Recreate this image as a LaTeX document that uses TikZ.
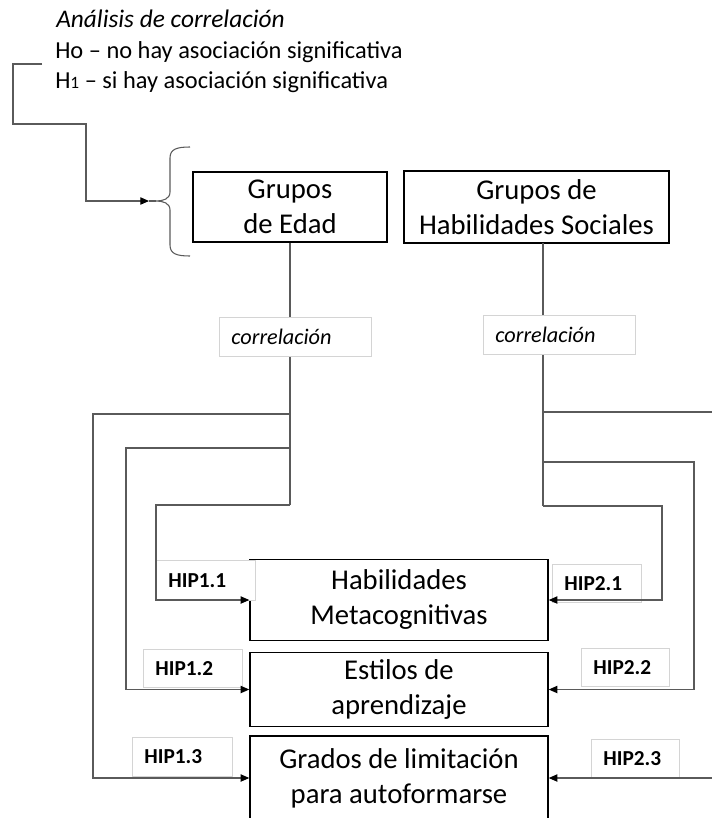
\documentclass[tikz,border=0pt]{standalone}
\usepackage{fontspec}
\setmainfont{Carlito}
\usetikzlibrary{arrows.meta}
\definecolor{conncol}{HTML}{5A5A5A}
\definecolor{lblgray}{HTML}{D4D4D4}
\begin{document}
\begin{tikzpicture}[x=0.75pt,y=-0.75pt,
  conn/.style={draw=conncol,line width=0.8pt},
  arr/.style={conn,-{Triangle[length=6.5pt,width=5.5pt,color=black]}},
  mainbox/.style={draw=black,line width=1.1pt,fill=white,align=center,inner sep=0pt,
    font=\fontsize{21.5}{26.25}\selectfont},
  lbl/.style={draw=lblgray,line width=0.6pt,fill=white,align=left,anchor=north west,
    inner ysep=0pt,inner xsep=9pt},
  hiptext/.style={lbl,font=\fontsize{16}{19}\selectfont\bfseries},
  corrtext/.style={lbl,font=\fontsize{16.7}{19}\selectfont\itshape},
  toptext/.style={anchor=base west,inner sep=0pt,font=\fontsize{18.3}{22.5}\selectfont}]
\useasboundingbox (0,0) rectangle (712,818);

% top texts
\node[toptext,font=\fontsize{19}{22.5}\selectfont\itshape] (t1) at (56,27) {Análisis de correlación};
\node[toptext] (t2) at (55,58) {Ho – no hay asociación significativa};
\node[toptext] (t3) at (55,88) {H{\fontsize{13}{13}\selectfont 1} – si hay asociación significativa};

% main boxes
\node[mainbox,minimum width=145.5pt,minimum height=52.5pt] (edad) at (290,207) {Grupos\\de Edad};
\node[mainbox,minimum width=198.75pt,minimum height=54pt] (hs) at (536.5,207) {Grupos de\\Habilidades Sociales};
\node[mainbox,minimum width=223.5pt,minimum height=60.75pt] (hm) at (399,600) {Habilidades\\Metacognitivas};
\node[mainbox,minimum width=223.5pt,minimum height=55.5pt] (est) at (399,689.5) {Estilos de\\aprendizaje};
\node[mainbox,minimum width=223.5pt,minimum height=63pt] (gl) at (399,778) {Grados de limitación\\para autoformarse};

% hypothesis labels (under the connectors)
\node[hiptext,text width=56.25pt,minimum height=30pt] (h11) at (156,560) {HIP1.1};
\node[hiptext,text width=48.75pt,minimum height=28.5pt] (h21) at (552,564) {HIP2.1};
\node[hiptext,text width=56.25pt,minimum height=28.5pt] (h12) at (143,649) {HIP1.2};
\node[hiptext,text width=48pt,minimum height=28.5pt] (h22) at (581,648) {HIP2.2};
\node[hiptext,text width=57pt,minimum height=29.25pt] (h13) at (132,737) {HIP1.3};
\node[hiptext,text width=48pt,minimum height=29.25pt] (h23) at (591,739) {HIP2.3};

% bracket with arrow into brace
\coordinate (bs) at (42,64);
\coordinate (ah) at (149,201);
\coordinate (bt) at (156,201);
\draw[arr] (bs) -- (13,64) -- (13,124) -- (86,124) -- (86,201) -- (ah);
\draw[conn] (ah) -- (bt);
\draw[conn] (190,147) .. controls (177,147) and (170,149) .. (170,158) -- (170,192)
  .. controls (170,199) and (163,201) .. (bt)
  .. controls (163,201) and (170,203) .. (170,210) -- (170,245)
  .. controls (170,254) and (177,256) .. (190,256);

% left trunk
\coordinate (la) at (290,414);
\coordinate (lb) at (290,448);
\coordinate (lc) at (290,505);
\draw[conn] (edad.south) -- (lc);
\draw[arr] (la) -- ++(-197,0) |- (gl.west);
\draw[arr] (lb) -- ++(-164,0) |- (est.west);
\draw[arr] (lc) -- ++(-134,0) |- (hm.west);

% right trunk
\coordinate (rtop) at (543,243);
\coordinate (ra) at (543,412);
\coordinate (rb) at (543,462);
\coordinate (rc) at (543,506);
\draw[conn] (rtop) -- (rc);
\draw[arr] (ra) -- ++(175,0) |- (gl.east);
\draw[arr] (rb) -- ++(151,0) |- (est.east);
\draw[arr] (rc) -- ++(119,0) |- (hm.east);

% correlation labels (over the trunks)
\node[corrtext,text width=96pt,minimum height=29.25pt] (c1) at (219,317) {correlación};
\node[corrtext,text width=96pt,minimum height=29.25pt] (c2) at (483,315) {correlación};
\end{tikzpicture}
\end{document}
